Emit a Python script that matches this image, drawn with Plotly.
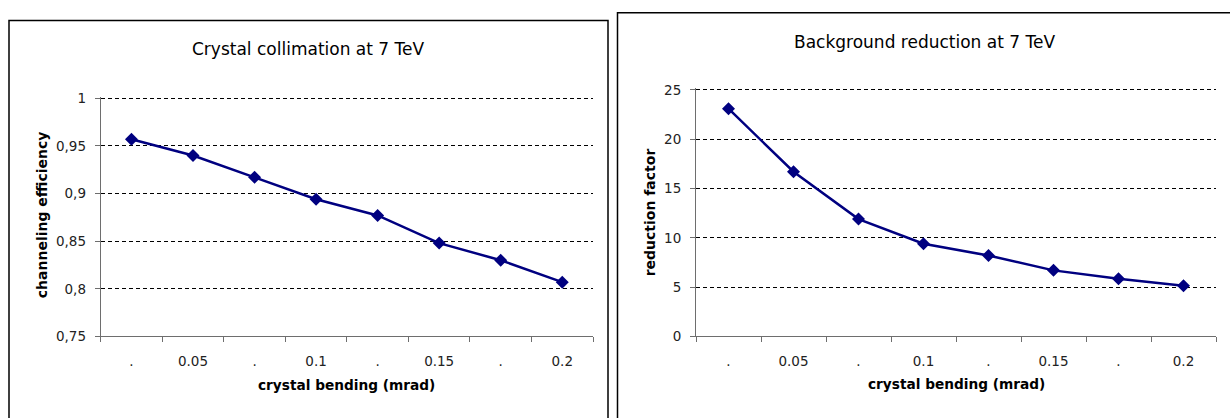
import plotly.graph_objects as go

# ---- data ----
bending = [0.025, 0.05, 0.075, 0.1, 0.125, 0.15, 0.175, 0.2]
x_labels = [".", "0.05", ".", "0.1", ".", "0.15", ".", "0.2"]
efficiency = [0.957, 0.940, 0.917, 0.894, 0.877, 0.848, 0.830, 0.807]
reduction = [23.1, 16.7, 11.9, 9.4, 8.2, 6.7, 5.85, 5.15]
eff_ticks = [0.75, 0.8, 0.85, 0.9, 0.95, 1.0]
eff_labels = ["0,75", "0,8", "0,85", "0,9", "0,95", "1"]
red_ticks = [0, 5, 10, 15, 20, 25]
red_labels = ["0", "5", "10", "15", "20", "25"]

W, H = 1230, 418
FONT = "DejaVu Sans"
NAVY = "#000080"
AXIS_COL = "#6e6e6e"

def fx(px):
    return px / W

def fy(py):
    return 1 - py / H

step = bending[1] - bending[0]
bounds = [bending[0] - step / 2 + i * step for i in range(len(bending) + 1)]
xr = [bounds[0], bounds[-1]]

fig = go.Figure()
fig.add_trace(go.Scatter(x=bending, y=efficiency, mode="lines+markers",
                         line=dict(color=NAVY, width=2.5),
                         marker=dict(symbol="diamond", size=10, color=NAVY),
                         xaxis="x", yaxis="y", showlegend=False))
fig.add_trace(go.Scatter(x=bending, y=reduction, mode="lines+markers",
                         line=dict(color=NAVY, width=2.5),
                         marker=dict(symbol="diamond", size=10, color=NAVY),
                         xaxis="x2", yaxis="y2", showlegend=False))

tickfont = dict(family=FONT, size=13.5, color="#222")

def xaxis_cfg(domain, anchor):
    return dict(domain=domain, anchor=anchor, range=xr, showgrid=False, zeroline=False,
                showline=True, linecolor=AXIS_COL, linewidth=1,
                tickmode="array", tickvals=bending, ticktext=x_labels, ticks="",
                ticklabelstandoff=12, tickfont=tickfont,
                minor=dict(tickmode="array", tickvals=bounds, ticks="outside",
                           ticklen=5, tickcolor=AXIS_COL, tickwidth=1, showgrid=False))

def yaxis_cfg(domain, anchor, rng, tv, tt):
    return dict(domain=domain, anchor=anchor, range=rng, showgrid=False, zeroline=False,
                showline=True, linecolor=AXIS_COL, linewidth=1,
                tickmode="array", tickvals=tv, ticktext=tt, ticks="outside",
                ticklen=5, tickcolor=AXIS_COL, ticklabelstandoff=6, tickfont=tickfont,
                minor=dict(tickmode="array", tickvals=tv[1:], ticks="", showgrid=True,
                           gridcolor="black", gridwidth=1, griddash="4px,3px"))

# slight headroom so the top gridline is not suppressed at the range edge
eff_range = [0.75, 1.0015]
red_range = [0, 25.15]
eff_top_px = 341.7 - (341.7 - 94.7) * (eff_range[1] - 0.75) / 0.25
red_top_px = 341.7 - (341.7 - 86.0) * red_range[1] / 25

fig.update_layout(
    width=W, height=H, margin=dict(l=0, r=0, t=0, b=0),
    paper_bgcolor="white", plot_bgcolor="white",
    xaxis=xaxis_cfg([fx(100.7), fx(593)], "y"),
    yaxis=yaxis_cfg([fy(341.7), fy(eff_top_px)], "x", eff_range, eff_ticks, eff_labels),
    xaxis2=xaxis_cfg([fx(696), fx(1216)], "y2"),
    yaxis2=yaxis_cfg([fy(341.7), fy(red_top_px)], "x2", red_range, red_ticks, red_labels),
    showlegend=False,
)

# chart-area frames
fig.add_shape(type="rect", xref="paper", yref="paper",
              x0=fx(9), x1=fx(608), y0=fy(430), y1=fy(14),
              line=dict(color="black", width=1.5), fillcolor="rgba(0,0,0,0)", layer="below")
fig.add_shape(type="rect", xref="paper", yref="paper",
              x0=fx(617.5), x1=fx(1240), y0=fy(430), y1=fy(6),
              line=dict(color="black", width=1.5), fillcolor="rgba(0,0,0,0)", layer="below")

def ann(text, x, y, size, bold=False, angle=0):
    fig.add_annotation(text=f"<b>{text}</b>" if bold else text,
                       xref="paper", yref="paper", x=fx(x), y=fy(y),
                       xanchor="center", yanchor="middle", showarrow=False,
                       textangle=angle, font=dict(family=FONT, size=size, color="black"))

ann("Crystal collimation at 7 TeV", 308, 44, 17)
ann("Background reduction at 7 TeV", 924, 36, 17)
ann("crystal bending (mrad)", 346, 392, 13.7, bold=True)
ann("crystal bending (mrad)", 956, 391, 13.7, bold=True)
ann("channeling efficiency", 42, 216, 14, bold=True, angle=-90)
ann("reduction factor", 650, 213, 14, bold=True, angle=-90)

fig.write_html("out.html", config={"displayModeBar": False},
               post_script="document.body.style.margin='0';document.body.style.padding='0';")
